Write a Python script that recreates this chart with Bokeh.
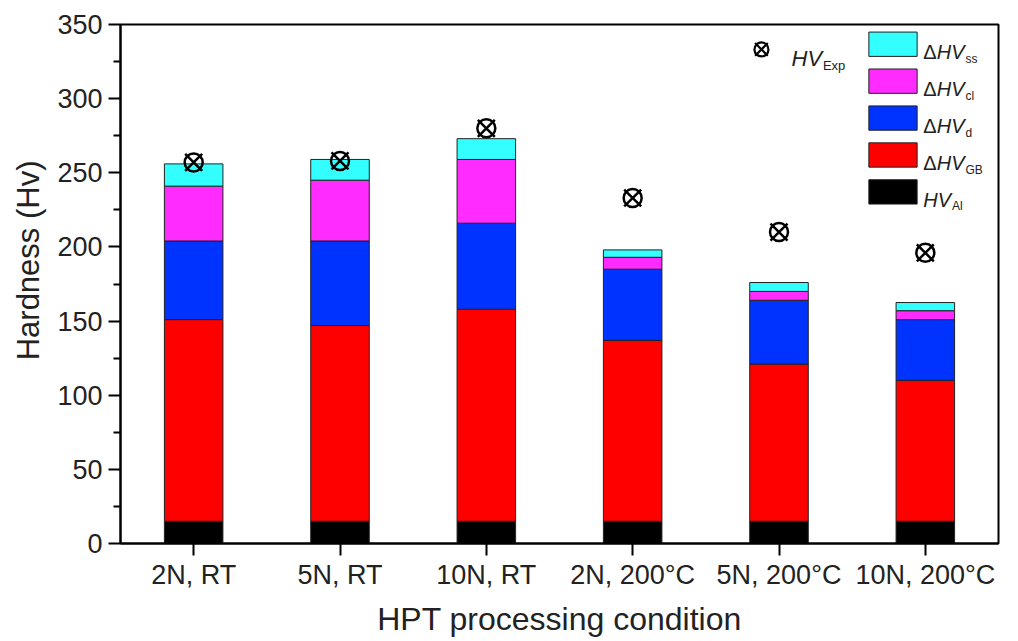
from bokeh.plotting import figure
from bokeh.models import FixedTicker, Range1d, ColumnDataSource, Title
from bokeh.core.properties import value
from bokeh.embed import file_html
from bokeh.resources import INLINE

# ---------------- data ----------------
conditions = ["2N, RT", "5N, RT", "10N, RT", "2N, 200°C", "5N, 200°C", "10N, 200°C"]
hv_al = [15, 15, 15, 15, 15, 15]
d_hv_gb = [136, 132, 143, 122, 106, 95]
d_hv_d = [53, 57, 58, 48, 43, 41]
d_hv_cl = [37, 41, 43, 8, 6, 6]
d_hv_ss = [15, 14, 14, 5, 6, 5.5]
hv_exp = [257, 258, 280, 233, 210, 196]

y_ticks = [0, 50, 100, 150, 200, 250, 300, 350]
y_minor = [25, 75, 125, 175, 225, 275, 325]

# ---------------- styles ----------------
FONT = "Liberation Sans"
TXT = "#222222"
stack_keys = ["al", "gb", "d", "cl", "ss"]
stack_colors = ["#000000", "#FF0000", "#0033FF", "#FF2BFF", "#33FFFF"]

xs = list(range(1, len(conditions) + 1))
src = ColumnDataSource(dict(x=xs, al=hv_al, gb=d_hv_gb, d=d_hv_d, cl=d_hv_cl,
                            ss=d_hv_ss, exp=hv_exp))

p = figure(width=1018, height=641, x_range=Range1d(0.5, 6.5), y_range=Range1d(0, 350),
           output_backend="svg", toolbar_location=None,
           min_border_left=120, min_border_right=20, min_border_top=24, min_border_bottom=98)
p.grid.visible = False
p.outline_line_color = "black"
p.outline_line_width = 2
p.background_fill_color = "white"
p.border_fill_color = "white"

p.vbar_stack(stack_keys, x="x", width=0.4, color=stack_colors, source=src,
             line_color="#222222", line_width=1)

# experimental hardness markers (circle with cross)
p.scatter(x="x", y="exp", source=src, marker="circle", size=18, fill_color=None,
          line_color="black", line_width=2.5)
p.scatter(x="x", y="exp", source=src, marker="x", size=24,
          line_color="black", line_width=2.5)

# axes
xa = p.xaxis[0]
xa.ticker = FixedTicker(ticks=xs)
xa.major_label_overrides = {i: c for i, c in zip(xs, conditions)}
ya = p.yaxis[0]
ya.ticker = FixedTicker(ticks=y_ticks, minor_ticks=y_minor)
for ax in (xa, ya):
    ax.axis_line_width = 2
    ax.axis_line_color = "black"
    ax.major_tick_line_width = 2
    ax.minor_tick_line_width = 2
    ax.major_tick_out = 12
    ax.major_tick_in = 0
    ax.minor_tick_out = 7
    ax.minor_tick_in = 0
    ax.major_label_text_font = FONT
    ax.major_label_text_font_size = "27px"
    ax.major_label_text_color = TXT
    ax.axis_label_text_font = FONT
    ax.axis_label_text_font_style = "normal"
    ax.axis_label_text_color = TXT
xa.minor_tick_out = 0
xa.major_label_standoff = 4
ya.major_label_standoff = 6
xa.axis_label = "HPT processing condition"
xa.axis_label_text_font_size = "32px"
xa.axis_label_standoff = 8

# y axis title in the left panel, sitting a little above centre as in the original
p.add_layout(Title(text="Hardness (Hv)", align="right", offset=136, standoff=17,
                   text_font=FONT, text_font_size="31px", text_font_style="normal",
                   text_color=TXT), "left")

# ---------------- custom legend (layout in data units) ----------------
sw_left, sw_right = 5.614, 5.944
row_top, row_step, sw_h = 336.7, 24.9, 16.4
legend_order = [4, 3, 2, 1, 0]  # ss, cl, d, GB, Al
has_delta = [True, True, True, True, False]
subs = ["ss", "cl", "d", "GB", "Al"]
text_x = 5.986
delta_w = 0.092      # width of the upright delta sign
hv_w = 0.196         # width of italic "HV"
for row, idx in enumerate(legend_order):
    yc = row_top - row * row_step
    p.quad(left=[sw_left], right=[sw_right], bottom=[yc - sw_h / 2], top=[yc + sw_h / 2],
           fill_color=stack_colors[idx], line_color="#222222", line_width=1)
    hx = text_x
    if has_delta[row]:
        p.text(x=[text_x], y=[yc - 5.4], text=["Δ"], text_font=value(FONT),
               text_font_size="20px", text_color=TXT,
               text_baseline="alphabetic", text_align="left")
        hx = text_x + delta_w
    p.text(x=[hx], y=[yc - 5.4], text=["HV"], text_font=value(FONT),
           text_font_style="italic", text_font_size="20px", text_color=TXT,
           text_baseline="alphabetic", text_align="left")
    p.text(x=[hx + hv_w], y=[yc - 9.8], text=[subs[row]], text_font=value(FONT),
           text_font_size="12px", text_color=TXT,
           text_baseline="alphabetic", text_align="left")

# experimental marker legend entry
p.scatter(x=[4.88], y=[333.2], marker="circle", size=14, fill_color=None,
          line_color="black", line_width=2.2)
p.scatter(x=[4.88], y=[333.2], marker="x", size=18, line_color="black", line_width=2.2)
p.text(x=[5.086], y=[327.1], text=["HV"], text_font=value(FONT), text_font_style="italic",
       text_font_size="22px", text_color=TXT, text_baseline="alphabetic")
p.text(x=[5.30], y=[322.4], text=["Exp"], text_font=value(FONT),
       text_font_size="13px", text_color=TXT, text_baseline="alphabetic")

open("out.html", "w").write(file_html(p, INLINE))
